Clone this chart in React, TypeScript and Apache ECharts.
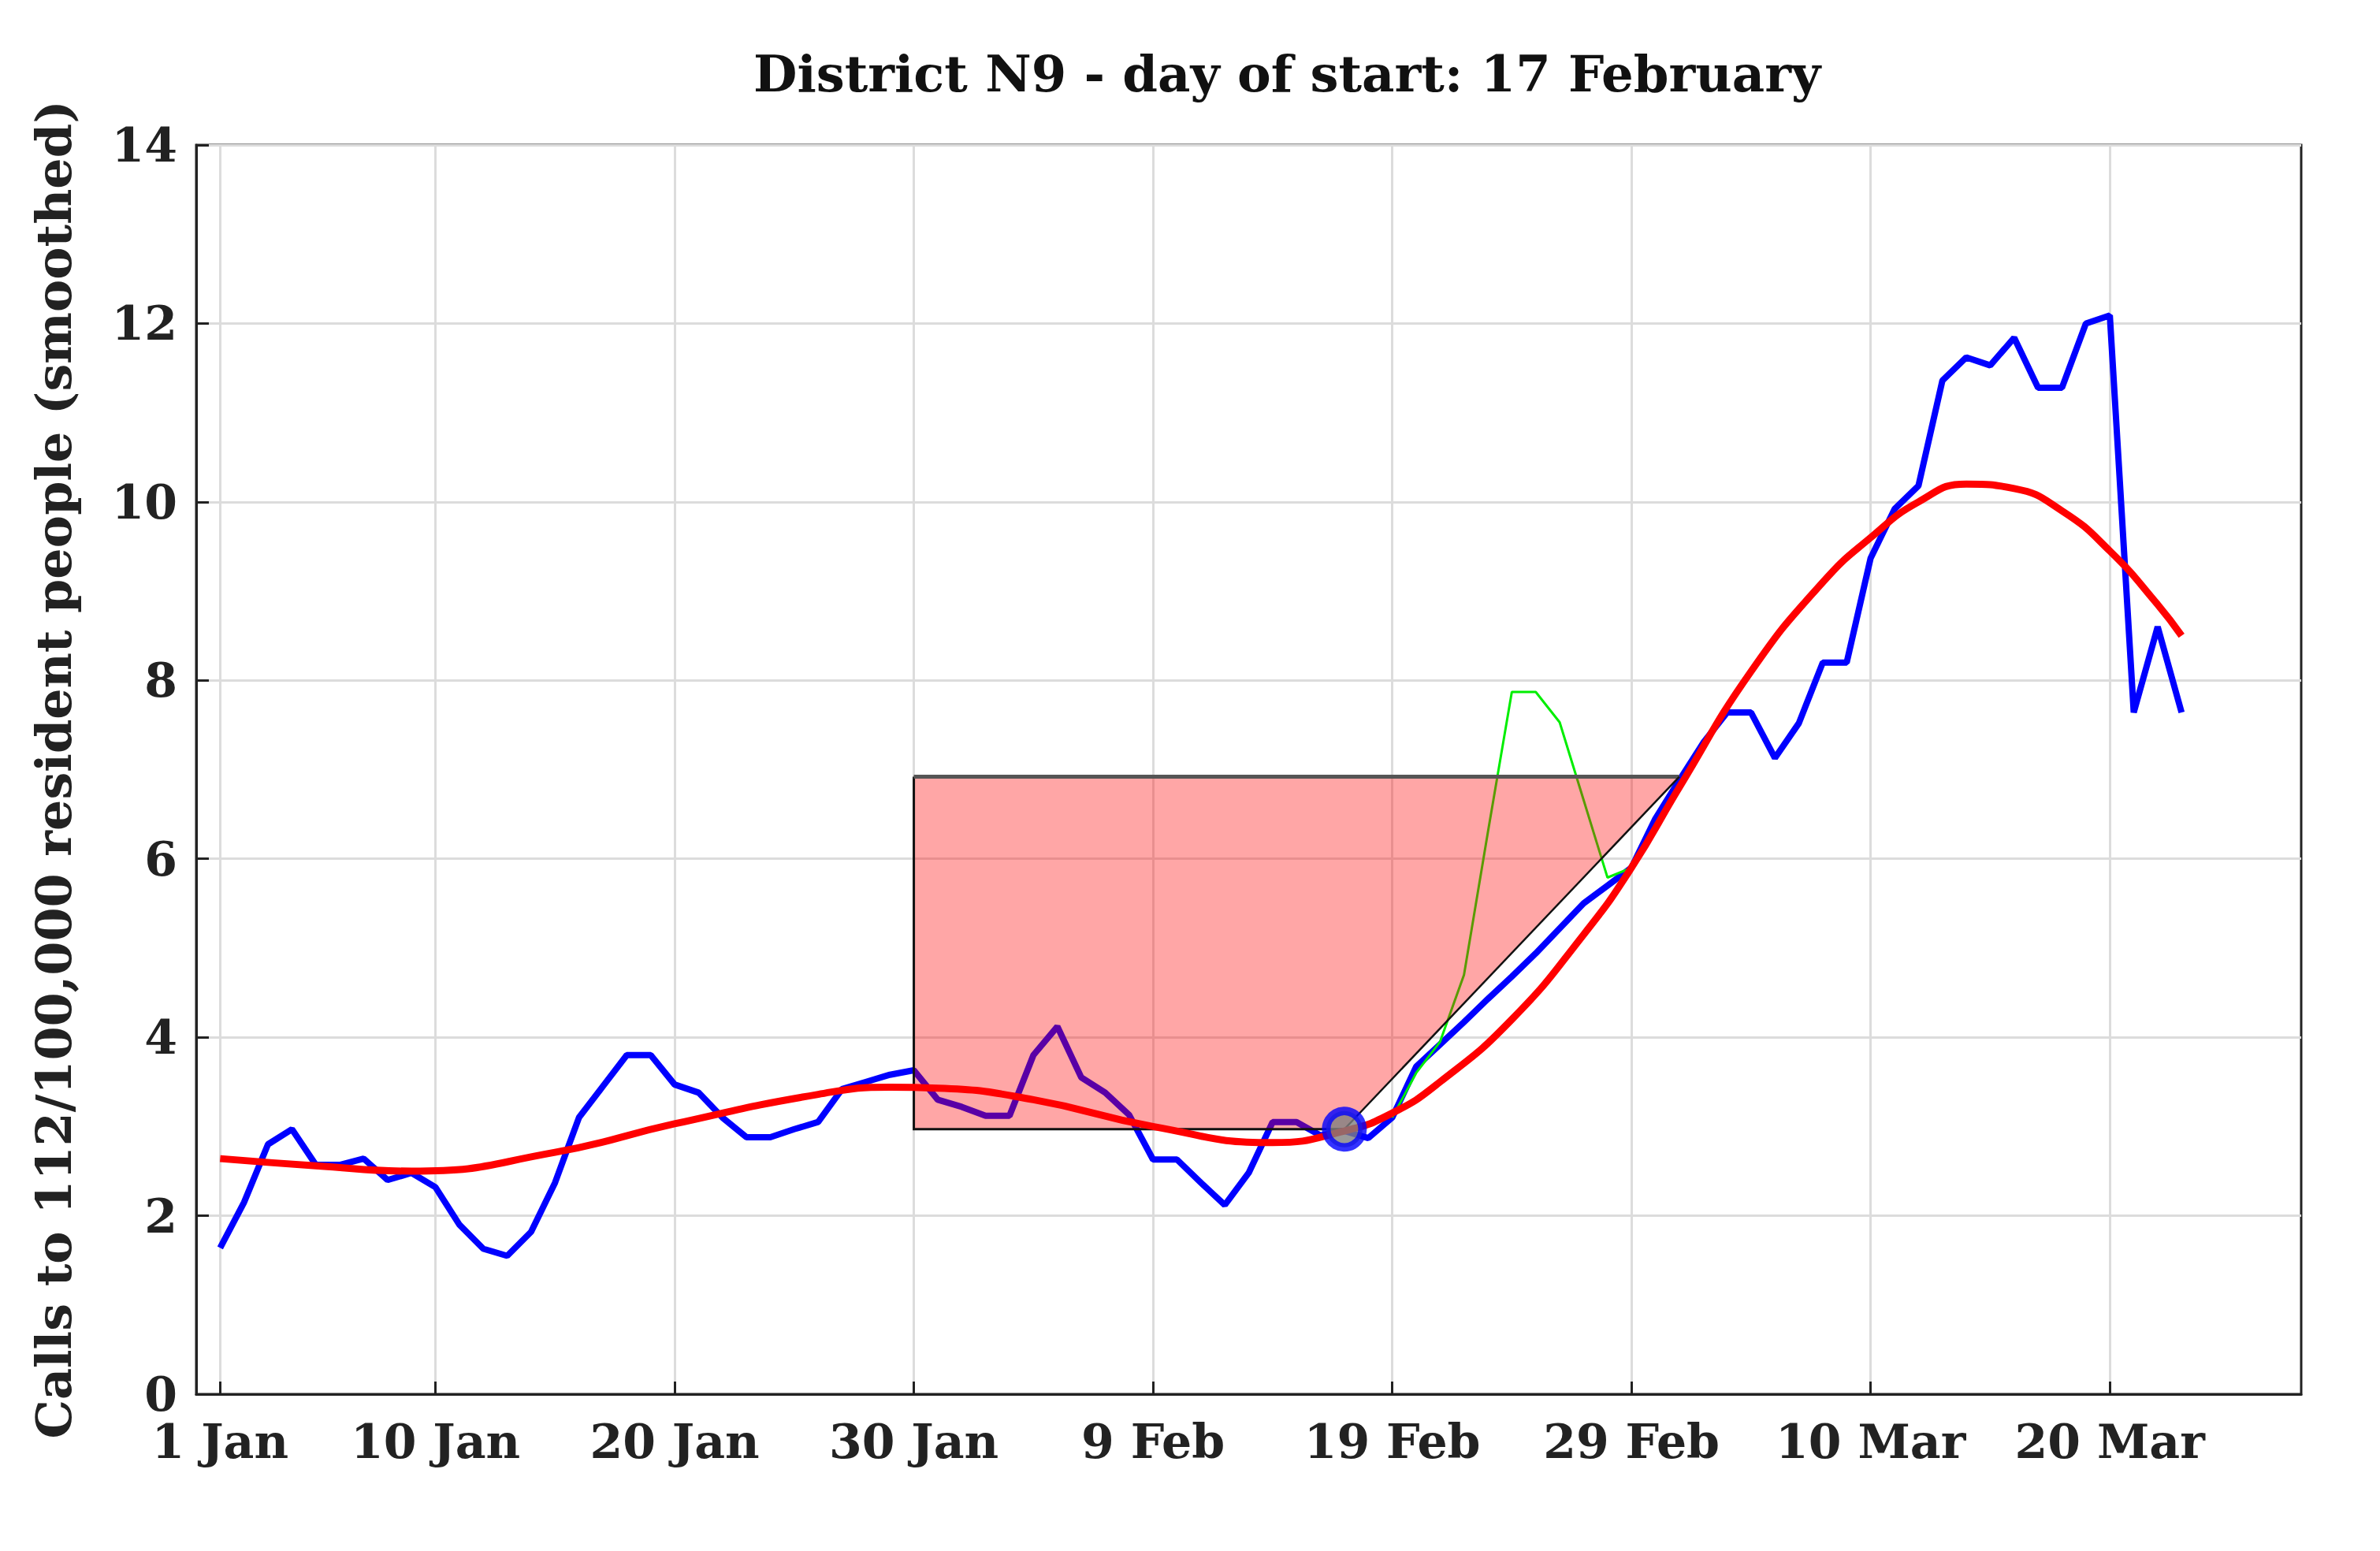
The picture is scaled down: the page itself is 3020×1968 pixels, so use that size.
import React, { useEffect, useRef } from 'react';
import * as echarts from 'echarts';

const days = Array.from({ length: 83 }, (_, i) => i + 1);
const calls = [
  1.64, 2.15, 2.8, 2.97, 2.57, 2.57, 2.64, 2.4, 2.48, 2.32,
  1.9, 1.63, 1.55, 1.82, 2.37, 3.1, 3.45, 3.8, 3.8, 3.47,
  3.38, 3.1, 2.88, 2.88, 2.97, 3.05, 3.42, 3.5, 3.58, 3.63,
  3.3, 3.22, 3.12, 3.12, 3.8, 4.12, 3.55, 3.38, 3.13, 2.63,
  2.63, 2.37, 2.12, 2.48, 3.05, 3.05, 2.9, 2.95, 2.87, 3.1,
  3.67, 3.92, 4.17, 4.43, 4.68, 4.94, 5.22, 5.5, 5.7, 5.9,
  6.45, 6.88, 7.3, 7.64, 7.64, 7.13, 7.52, 8.2, 8.2, 9.37,
  9.92, 10.18, 11.36, 11.62, 11.53, 11.84, 11.28, 11.28, 12.0, 12.09,
  7.64, 8.6, 7.64,
];
const greenDays = [50, 51, 52, 53, 54, 55, 56, 57, 58, 59, 60];
const greenVals = [3.1, 3.6, 3.95, 4.7, 6.3, 7.87, 7.87, 7.53, 6.66, 5.79, 5.9];
const fitDays = [1, 5, 9, 15, 20, 26, 29, 31, 35, 40, 45, 48, 50, 52, 55, 58, 60, 62, 65, 68, 70, 72, 74, 76, 78, 80, 82, 83];
const fitVals = [2.64, 2.56, 2.5, 2.71, 3.03, 3.36, 3.44, 3.43, 3.3, 3.0, 2.82, 2.95, 3.15, 3.5, 4.2, 5.15, 5.9, 6.8, 8.1, 9.1, 9.6, 10.0, 10.2, 10.15, 9.9, 9.45, 8.85, 8.5];
const tickDays = [1, 10, 20, 30, 40, 50, 60, 70, 80];
const tickLabels = ['1 Jan', '10 Jan', '20 Jan', '30 Jan', '9 Feb', '19 Feb', '29 Feb', '10 Mar', '20 Mar'];
const startDay = 48;
const startVal = 2.97;
const boxLeft = 30;
const boxRight = 62;
const boxTop = 6.92;

const font = 'Palatino Linotype, "DejaVu Serif", serif';

const App: React.FC = () => {
  const ref = useRef<HTMLDivElement | null>(null);

  useEffect(() => {
    if (!ref.current) return;
    const chart = echarts.init(ref.current, undefined, { renderer: 'svg' });
    chart.setOption({
      animation: false,
      title: {
        text: 'District N9 - day of start: 17 February',
        left: 1620,
        top: 48,
        textAlign: 'center',
        textStyle: { fontFamily: font, fontSize: 64, fontWeight: 'bold', color: '#111' },
      },
      grid: { left: 241, right: 92, top: 176, bottom: 189, show: true, borderColor: '#222', borderWidth: 3 },
      xAxis: {
        type: 'value',
        min: 0,
        max: 88,
        axisLine: { lineStyle: { color: '#222', width: 3 } },
        axisTick: { inside: true, length: 16, customValues: tickDays, lineStyle: { color: '#222', width: 3 } },
        axisLabel: {
          customValues: tickDays,
          formatter: (v: number) => tickLabels[tickDays.indexOf(v)] ?? '',
          fontFamily: font, fontSize: 60, fontWeight: 'bold', color: '#222', margin: 30,
        },
        splitLine: { show: true, lineStyle: { color: '#dcdcdc', width: 3 } },
      },
      yAxis: {
        type: 'value',
        min: 0,
        max: 14,
        interval: 2,
        name: 'Calls to 112/100,000 resident people (smoothed)',
        nameLocation: 'middle',
        nameGap: 150,
        nameTextStyle: { fontFamily: font, fontSize: 62, fontWeight: 'bold', color: '#222' },
        axisLine: { show: true, lineStyle: { color: '#222', width: 3 } },
        axisTick: { show: true, inside: true, length: 16, lineStyle: { color: '#222', width: 3 } },
        axisLabel: { fontFamily: font, fontSize: 60, fontWeight: 'bold', color: '#222', margin: 24 },
        splitLine: { show: true, lineStyle: { color: '#dcdcdc', width: 3 } },
      },
      series: [
        {
          type: 'line',
          data: days.map((d, i) => [d, calls[i]]),
          showSymbol: false,
          lineStyle: { color: '#0000ff', width: 8 },
          z: 2,
        },
        {
          type: 'line',
          data: greenDays.map((d, i) => [d, greenVals[i]]),
          showSymbol: false,
          lineStyle: { color: '#00ee00', width: 3 },
          z: 3,
        },
        {
          type: 'custom',
          data: [[0]],
          z: 4,
          renderItem: (_p: any, api: any) => {
            const a = api.coord([boxLeft, startVal]);
            const b = api.coord([boxLeft, boxTop]);
            const c = api.coord([boxRight, boxTop]);
            const s = api.coord([startDay, startVal]);
            return {
              type: 'group',
              children: [
                { type: 'polygon', shape: { points: [a, b, c, s] }, style: { fill: 'rgba(255,0,0,0.35)', stroke: null } },
                { type: 'polyline', shape: { points: [s, a, b] }, style: { stroke: '#111', lineWidth: 3, fill: null } },
                { type: 'line', shape: { x1: b[0], y1: b[1], x2: c[0], y2: c[1] }, style: { stroke: '#555', lineWidth: 5 } },
                { type: 'line', shape: { x1: s[0], y1: s[1], x2: c[0], y2: c[1] }, style: { stroke: '#111', lineWidth: 2.5 } },
              ],
            };
          },
        },
        {
          type: 'line',
          data: fitDays.map((d, i) => [d, fitVals[i]]),
          smooth: 0.5,
          showSymbol: false,
          lineStyle: { color: '#ff0000', width: 9 },
          z: 5,
        },
        {
          type: 'scatter',
          data: [[startDay, startVal]],
          symbolSize: 46,
          itemStyle: { color: '#808080', borderColor: '#0000ff', borderWidth: 11 },
          z: 6,
        },
      ],
    });
    return () => chart.dispose();
  }, []);

  return <div ref={ref} style={{ width: 3004, height: 1950 }} />;
};

export default App;
